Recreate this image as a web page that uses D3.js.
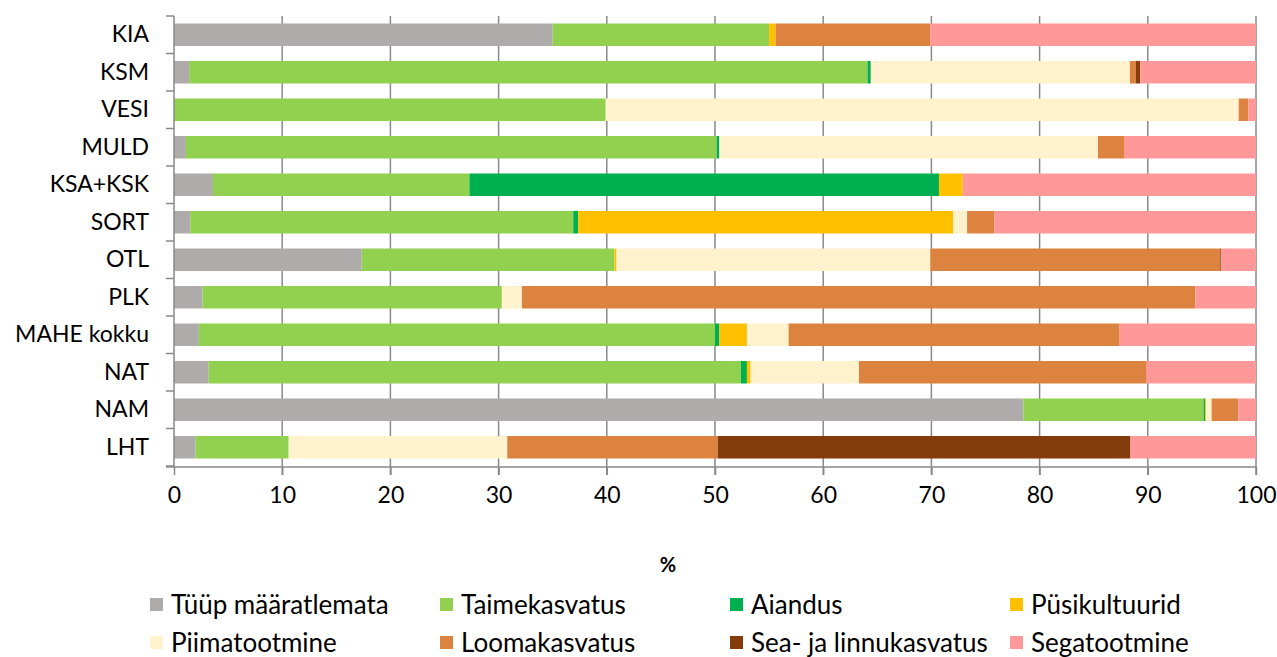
<!DOCTYPE html>
<html><head><meta charset="utf-8">
<script src="https://cdn.jsdelivr.net/npm/d3@7"></script>
<style>
body{margin:0;background:#fff;}
text{font-family:Lato,"Open Sans",sans-serif;fill:#000;}
</style></head>
<body><svg id="c" width="1277" height="657"></svg>
<script>
const categories = ["KIA","KSM","VESI","MULD","KSA+KSK","SORT","OTL","PLK","MAHE kokku","NAT","NAM","LHT"];
const seriesNames = ["Tüüp määratlemata","Taimekasvatus","Aiandus","Püsikultuurid","Piimatootmine","Loomakasvatus","Sea- ja linnukasvatus","Segatootmine"];
const seriesColors = ["#AFABAB","#92D050","#00B050","#FFC000","#FFF2CC","#DC843F","#843C0C","#FF9999"];
// values per series, in category order
const tyypMaaratlemata = [35.0, 1.4, 0.0, 1.1, 3.6, 1.5, 17.35, 2.65, 2.3, 3.2, 78.5, 2.0];
const taimekasvatus    = [20.0, 62.7, 39.9, 49.05, 23.7, 35.4, 23.35, 27.65, 47.7, 49.2, 16.65, 8.6];
const aiandus          = [0.0, 0.3, 0.0, 0.25, 43.4, 0.45, 0.0, 0.0, 0.4, 0.55, 0.15, 0.0];
const pusikultuurid    = [0.6, 0.0, 0.0, 0.0, 2.2, 34.65, 0.2, 0.0, 2.55, 0.35, 0.1, 0.0];
const piimatootmine    = [0.0, 23.95, 58.5, 35.0, 0.0, 1.3, 29.0, 1.85, 3.85, 10.0, 0.5, 20.2];
const loomakasvatus    = [14.3, 0.55, 0.9, 2.4, 0.0, 2.5, 26.8, 62.25, 30.6, 26.6, 2.45, 19.45];
const seaJaLinnu       = [0.0, 0.4, 0.0, 0.0, 0.0, 0.0, 0.1, 0.0, 0.0, 0.0, 0.0, 38.15];
const segatootmine     = [30.1, 10.7, 0.7, 12.2, 27.1, 24.2, 3.2, 5.6, 12.6, 10.1, 1.65, 11.6];
const xTicks = [0,10,20,30,40,50,60,70,80,90,100];
const xTitle = "%";

const allSeries = [tyypMaaratlemata,taimekasvatus,aiandus,pusikultuurid,piimatootmine,loomakasvatus,seaJaLinnu,segatootmine];
const rows = categories.map((c,i)=>{const o={cat:c}; seriesNames.forEach((s,j)=>o[s]=allSeries[j][i]); return o;});

const svg = d3.select("#c");
const pL=174, pR=1256, pT=16, pB=466;
const x = d3.scaleLinear().domain([0,100]).range([pL,pR]);
const y = d3.scaleBand().domain(categories).range([pT,pB]).paddingInner(0.4).paddingOuter(0.2);
const axisColor="#898989";

// gridlines
svg.append("g").selectAll("line").data(xTicks.filter(d=>d>0)).join("line")
  .attr("x1",d=>x(d)).attr("x2",d=>x(d)).attr("y1",pT).attr("y2",pB+9)
  .attr("stroke",axisColor).attr("stroke-width",1.5);

// bars
const stack = d3.stack().keys(seriesNames)(rows);
const color = d3.scaleOrdinal().domain(seriesNames).range(seriesColors);
svg.append("g").selectAll("g").data(stack).join("g").attr("fill",d=>color(d.key))
  .selectAll("rect").data(d=>d).join("rect")
  .attr("x",d=>x(d[0])).attr("width",d=>Math.max(0,x(d[1])-x(d[0])))
  .attr("y",d=>y(d.data.cat)).attr("height",y.bandwidth());

// x axis
const xAxis = svg.append("g").attr("transform",`translate(0,${pB+1})`)
  .call(d3.axisBottom(x).tickValues(xTicks).tickSize(8).tickPadding(12));
xAxis.select(".domain").remove();
xAxis.selectAll(".tick line").attr("stroke",axisColor).attr("stroke-width",1.5);
xAxis.selectAll("text").style("font-size","23px").style("font-family","Lato, sans-serif").attr("fill","#000");
svg.append("line").attr("x1",pL-8).attr("x2",pR).attr("y1",pB+1).attr("y2",pB+1)
  .attr("stroke",axisColor).attr("stroke-width",1.5);

// y axis
const yAxis = svg.append("g").attr("transform",`translate(${pL},0)`)
  .call(d3.axisLeft(y).tickSize(0).tickPadding(25));
yAxis.select(".domain").remove();
yAxis.selectAll("text").style("font-size","23px").style("font-family","Lato, sans-serif").attr("fill","#000");
svg.append("line").attr("x1",pL).attr("x2",pL).attr("y1",pT).attr("y2",pB+1)
  .attr("stroke",axisColor).attr("stroke-width",1.5);
const bounds = categories.map(c=>y(c)-y.step()*y.paddingInner()/2).concat([pB]);
bounds[0]=pT;
svg.append("g").selectAll("line").data(bounds).join("line")
  .attr("x1",pL-8).attr("x2",pL).attr("y1",d=>d).attr("y2",d=>d)
  .attr("stroke",axisColor).attr("stroke-width",1.5);

// x title
svg.append("text").attr("x",(pL+pR)/2-47).attr("y",572).attr("text-anchor","middle")
  .style("font-size","20px").style("font-weight","bold").text(xTitle);

// legend
const legX=[150,440,730,1010], legY=[605,643];
const leg = svg.append("g").selectAll("g").data(seriesNames).join("g")
  .attr("transform",(d,i)=>`translate(${legX[i%4]},${legY[Math.floor(i/4)]})`);
leg.append("rect").attr("x",0).attr("y",-7).attr("width",13).attr("height",13).attr("fill",d=>color(d));
leg.append("text").attr("x",21).attr("y",0).attr("dy","0.35em").style("font-size","26px").text(d=>d);
</script></body></html>
